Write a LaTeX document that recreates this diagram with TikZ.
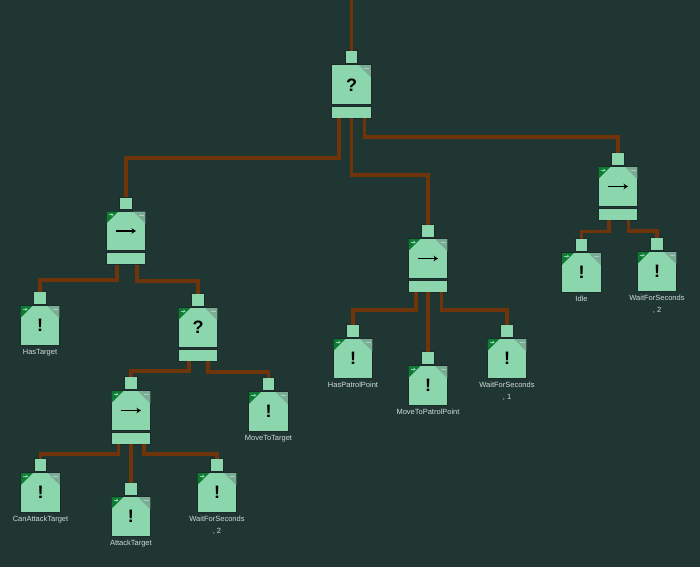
\documentclass[tikz,border=0pt]{standalone}
\usepackage{fontspec}
\setmainfont{Liberation Sans}
\usetikzlibrary{arrows.meta}
\definecolor{bgc}{HTML}{1F3632}
\definecolor{nodec}{HTML}{8CD6AE}
\definecolor{edgec}{HTML}{1A2B29}
\definecolor{wirec}{HTML}{6F3409}
\definecolor{greenc}{HTML}{0F7A33}
\definecolor{grayc}{HTML}{7AAB95}
\definecolor{labelc}{HTML}{D2DCD8}
\tikzset{
  portbox/.style={draw=edgec,fill=nodec,line width=0.8pt,minimum width=12.5pt,minimum height=12.5pt,inner sep=0pt,outer sep=0pt},
  mainbox/.style={draw=edgec,fill=nodec,line width=0.8pt,minimum width=39.5pt,minimum height=39.5pt,inner sep=0pt,outer sep=0pt},
  barbox/.style={draw=edgec,fill=nodec,line width=0.8pt,minimum width=39.5pt,minimum height=12pt,inner sep=0pt,outer sep=0pt},
  wire/.style={draw=wirec,line width=3.75pt},
  nametext/.style={text=labelc,font=\fontsize{7.5}{12}\selectfont,align=center,anchor=north,inner sep=0pt},
  symb/.style={font=\fontsize{18}{18}\selectfont\bfseries,text=black,inner sep=0pt}
}
% name, centre x, port top y
\newcommand{\boxbase}[3]{%
  \node[portbox] (#1-p) at (#2,#3+6) {};
  \node[mainbox] (#1-m) at (#2,#3+33.5) {};
  \fill[grayc] (#1-m.north east) ++(-12.5pt,-0.4pt) -- ++(12.1pt,0) -- ++(0,-12.1pt) -- cycle;
  \draw[grayc!60!white,line width=0.8pt] ([xshift=-7pt,yshift=-4pt]#1-m.north east) -- ++(5pt,0);
}
\newcommand{\greencorner}[1]{%
  \fill[greenc] (#1-m.north west) ++(0.4pt,-0.4pt) -- ++(11.6pt,0) -- ++(-11.6pt,-11.6pt) -- cycle;
  \draw[nodec,line width=0.7pt,-{Stealth[length=2.5pt,width=3pt]}] ([xshift=2.5pt,yshift=-3.5pt]#1-m.north west) -- ++(5pt,0);
}
% leaf: name, x, top, label
\newcommand{\leafnode}[4]{%
  \boxbase{#1}{#2}{#3}\greencorner{#1}
  \node[symb] (#1-s) at (#2,#3+33.5) {!};
  \node[nametext] (#1-t) at (#2,#3+57) {#4};
}
% composite: name, x, top
\newcommand{\compnode}[3]{%
  \boxbase{#1}{#2}{#3}
  \node[barbox] (#1-b) at (#2,#3+61) {};
}
\newcommand{\seqarrow}[1]{%
  \node[inner sep=0pt,minimum size=20pt] (#1-s) at (#1-m.center) {};
  \draw[black,line width=1.1pt,-{Stealth[length=4.5pt,width=5.5pt]}] ([xshift=-10pt]#1-s.center) -- ([xshift=10pt]#1-s.center);
}
\newcommand{\wirevia}[4]{% from, x offset, drop y, to
  \draw[wire] ([xshift=#2pt]#1-b.south) -- ([xshift=#2pt]#1-b.south |- 0,#3) -| (#4-p.north);
}
\begin{document}
\begin{tikzpicture}[x=1pt,y=-1pt]
\useasboundingbox (0,0) rectangle (700,567);
\fill[bgc] (0,0) rectangle (700,567);
\coordinate (topend) at (351.5,0);
% composites
\compnode{root}{351.5}{51}
\node[symb] (root-s) at (351.5,85) {?};
\compnode{seqa}{126}{197.5}\greencorner{seqa}\seqarrow{seqa}
\compnode{seqp}{428}{225}\greencorner{seqp}\seqarrow{seqp}
\compnode{seqr}{618}{153}\greencorner{seqr}\seqarrow{seqr}
\compnode{sel}{198}{294}\greencorner{sel}
\node[symb] (sel-s) at (198,327.5) {?};
\compnode{seqc}{130.9}{377}\greencorner{seqc}\seqarrow{seqc}
% leaves
\leafnode{hastarget}{40}{292}{HasTarget}
\leafnode{idle}{581.5}{239}{Idle}
\leafnode{waitr}{657}{238}{WaitForSeconds\\, 2}
\leafnode{haspatrol}{353}{325}{HasPatrolPoint}
\leafnode{movepatrol}{428}{352}{MoveToPatrolPoint}
\leafnode{waitp}{507}{325}{WaitForSeconds\\, 1}
\leafnode{movetarget}{268.5}{378}{MoveToTarget}
\leafnode{canattack}{40.5}{459}{CanAttackTarget}
\leafnode{attack}{130.9}{483}{AttackTarget}
\leafnode{waitc}{217}{459}{WaitForSeconds\\, 2}
% connectors
\draw[wire] (topend) -- (root-p.north);
\wirevia{root}{-12.5}{158}{seqa}
\wirevia{root}{0}{175}{seqp}
\wirevia{root}{13}{137}{seqr}
\wirevia{seqa}{-8.7}{279.7}{hastarget}
\wirevia{seqa}{10.7}{280.7}{sel}
\wirevia{seqp}{-12}{310}{haspatrol}
\draw[wire] (seqp-b.south) -- (movepatrol-p.north);
\wirevia{seqp}{13.5}{310}{waitp}
\wirevia{seqr}{-9}{231.5}{idle}
\wirevia{seqr}{10.5}{230.9}{waitr}
\wirevia{sel}{-9}{370.7}{seqc}
\wirevia{sel}{10.3}{371.7}{movetarget}
\wirevia{seqc}{-12.4}{453.7}{canattack}
\draw[wire] (seqc-b.south) -- (attack-p.north);
\wirevia{seqc}{13.1}{453.7}{waitc}
\end{tikzpicture}
\end{document}
